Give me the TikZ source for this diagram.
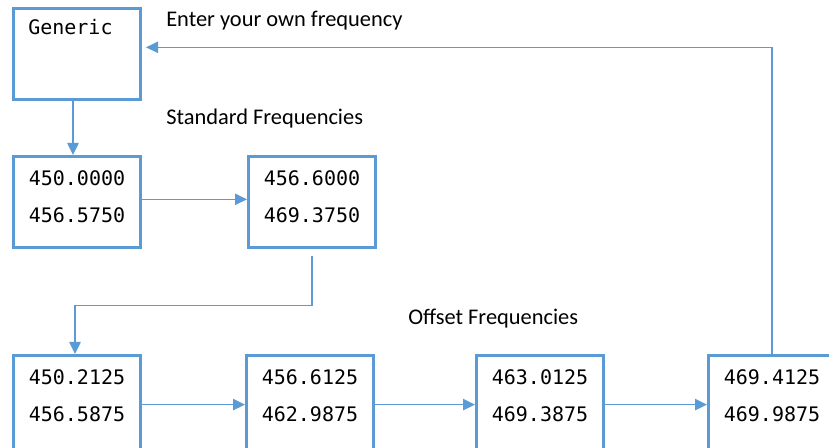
\documentclass[tikz,border=0pt]{standalone}
\usepackage{fontspec}
\setsansfont{Carlito}
\setmonofont{DejaVu Sans Mono}
\usetikzlibrary{arrows.meta,positioning}
\definecolor{freqblue}{RGB}{91,155,213}
\tikzset{
    freqbox/.style={rectangle, draw=freqblue, line width=1.9pt, minimum width=95.6pt, minimum height=68.6pt, inner sep=0pt},
    freqtext/.style={inner sep=0pt, align=center, font=\fontsize{15}{27.75}\selectfont\ttfamily},
    link/.style={draw=freqblue, line width=1.1pt, -{Triangle[length=9pt,width=8.5pt]}},
    caption/.style={anchor=base west, inner sep=0pt, font=\fontsize{16.8}{20}\selectfont\sffamily}
}

\begin{document}
\begin{tikzpicture}[x=0.75pt, y=-0.75pt]
    \clip (0,0) rectangle (829,448);

    % Generic entry
    \node [freqbox] (generic) at (77,54) {};
    \node [anchor=base west, inner sep=0pt, font=\fontsize{15}{18}\selectfont\ttfamily] (generictext) at (28,35) {Generic};

    % Standard frequencies
    \node [freqbox, below=40.5pt of generic] (std1) {};
    \node [freqbox, right=78.75pt of std1] (std2) {};
    \node [freqtext] (std1txt) at ([yshift=-31pt]std1.north) {450.0000\\456.5750};
    \node [freqtext] (std2txt) at ([yshift=-31pt]std2.north) {456.6000\\469.3750};

    % Offset frequencies (bottom edge runs off the page)
    \node [freqbox, minimum height=72pt, below=78.75pt of std1] (off1) {};
    \node [freqbox, minimum height=72pt, right=77.25pt of off1] (off2) {};
    \node [freqbox, minimum height=72pt, right=75pt of off2] (off3) {};
    \node [freqbox, minimum height=72pt, right=76.5pt of off3] (off4) {};
    \node [freqtext] (off1txt) at ([yshift=-31pt]off1.north) {450.2125\\456.5875};
    \node [freqtext] (off2txt) at ([yshift=-31pt]off2.north) {456.6125\\462.9875};
    \node [freqtext] (off3txt) at ([yshift=-31pt]off3.north) {463.0125\\469.3875};
    \node [freqtext] (off4txt) at ([yshift=-31pt]off4.north) {469.4125\\469.9875};

    % Labels
    \node [caption] (enterlbl) at (166,27) {Enter your own frequency};
    \node [caption] (stdlbl) at (166,125) {Standard Frequencies};
    \node [caption] (offlbl) at (408,325) {Offset Frequencies};

    % Connectors
    \draw [link] ([xshift=-3pt]generic.south) -- ([xshift=-3pt]std1.north);
    \draw [link] ([yshift=2pt]std1.east) -- ([yshift=2pt]std1.east -| std2.west);
    \draw [link] ([yshift=-5pt]std2.south) -- ++(0,50) -| ([xshift=-1.5pt]off1.north);
    \draw [link] ([yshift=-1pt]off1.west -| off1.east) -- ([yshift=-1pt]off1.west -| off2.west);
    \draw [link] ([yshift=-1pt]off2.west -| off2.east) -- ([yshift=-1pt]off2.west -| off3.west);
    \draw [link] ([yshift=-1pt]off3.west -| off3.east) -- ([yshift=-1pt]off3.west -| off4.west);
    \draw [link] (off4.north) |- ([xshift=3pt,yshift=5pt]generic.east);
\end{tikzpicture}
\end{document}
